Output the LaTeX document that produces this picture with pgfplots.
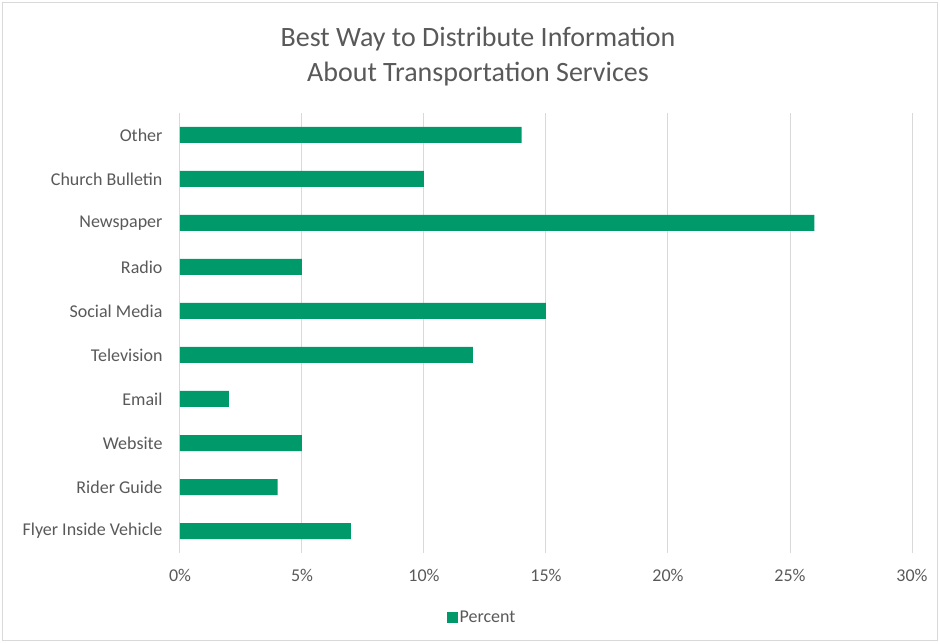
\documentclass[border=0pt]{standalone}
\usepackage{fontspec}
\setmainfont{Carlito}
\usepackage{pgfplots}
\pgfplotsset{compat=1.18}
\definecolor{bargreen}{RGB}{0,154,106}
\definecolor{txtgrey}{RGB}{89,89,89}
\definecolor{gridgrey}{RGB}{217,217,217}
\begin{document}
\begin{tikzpicture}[x=1pt,y=1pt]
\path[use as bounding box] (-180,-90) rectangle (760,553);
\draw[gridgrey,line width=1pt] (-177,-87) rectangle (757,550);
\begin{axis}[
    at={(0,0)}, anchor=south west,
    width=732pt, height=440pt, scale only axis,
    xbar, bar width=16pt,
    xmin=0, xmax=30, ymin=-0.5, ymax=9.5,
    xtick={0,5,...,30},
    xticklabel={\pgfmathprintnumber{\tick}\%},
    ytick={0,...,9},
    yticklabels={Flyer Inside Vehicle,Rider Guide,Website,Email,Television,Social Media,Radio,Newspaper,Church Bulletin,Other},
    xmajorgrids, major grid style={gridgrey,line width=1pt},
    axis line style={draw=none},
    major tick length=0pt,
    tick label style={font=\fontsize{18}{21}\selectfont, text=txtgrey},
    /pgf/number format/assume math mode=true,
    xticklabel style={yshift=-13pt},
    yticklabel style={xshift=-14pt},
    legend style={at={(0.4126,-0.1455)}, anchor=center, draw=none, fill=none,
        font=\fontsize{18}{21}\selectfont, text=txtgrey},
    legend image code/.code={\fill[bargreen] (0pt,-5.5pt) rectangle (11pt,5.5pt);},
]
\addplot[fill=bargreen, draw=none] coordinates {
    (7,0) (4,1) (5,2) (2,3) (12,4) (15,5) (5,6) (26,7) (10,8) (14,9)
};
\addlegendentry{Percent}
\end{axis}
\node[text=txtgrey, font=\fontsize{28}{35}\selectfont, align=center] at (298,496) {Best Way to Distribute Information\\About Transportation Services};
\end{tikzpicture}
\end{document}
